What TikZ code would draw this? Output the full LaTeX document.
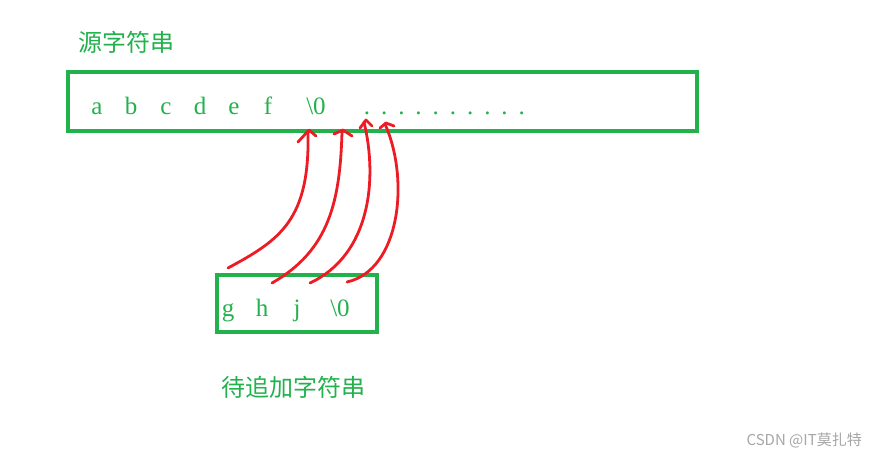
\documentclass[tikz,border=0pt]{standalone}
\usepackage{fontspec}
\setmainfont{Liberation Serif}
\newfontfamily\cjk{Noto Sans CJK SC}
\definecolor{gr}{RGB}{34,177,76}
\definecolor{rd}{RGB}{237,28,36}
\begin{document}
\begin{tikzpicture}[x=1pt,y=-1pt,
  box/.style={draw=gr,line width=3.5pt},
  ch/.style={text=gr,font=\fontsize{25}{30}\selectfont,inner sep=0pt,anchor=base},
  lab/.style={text=gr,font=\cjk\fontsize{24}{28}\selectfont,inner sep=0pt,anchor=west},
  arr/.style={draw=rd,line width=2.8pt,line cap=round,line join=round}]
\useasboundingbox (0,0) rectangle (876,458);
\node[lab] (t1) at (78,42) {源字符串};
\draw[box] (68,72) rectangle (697,131);
\foreach \c/\x [count=\i] in {a/97,b/131,c/166,d/200,e/234,f/268}
  \node[ch] (s\i) at (\x,114) {\c};
\node[ch] (s0) at (316,114) {\textbackslash 0};
\foreach \k in {0,...,9} \node[ch] at (367+17.2*\k,114) {.};
\draw[box] (217,275) rectangle (377,332);
\node[ch] (g) at (228,316) {g};
\node[ch] (h) at (262,316) {h};
\node[ch] (j) at (297,316) {j};
\node[ch] (z) at (340,316) {\textbackslash 0};
\node[lab] (t2) at (221,387) {待追加字符串};
\node[text=gray!70,font=\cjk\fontsize{15}{18}\selectfont,inner sep=0pt,anchor=east] (wm) at (862,440) {CSDN @IT莫扎特};
\coordinate (a1) at (228,268); \coordinate (b1) at (309,130);
\coordinate (a2) at (272,283); \coordinate (b2) at (343,130);
\coordinate (a3) at (310,283); \coordinate (b3) at (366,120);
\coordinate (a4) at (347,282); \coordinate (b4) at (386,123);
\draw[arr] (a1) .. controls (280,240) and (310,220) .. (308,132);
\draw[arr] (298,142) -- (b1) -- (316,136);
\draw[arr] (a2) .. controls (330,250) and (340,200) .. (342,132);
\draw[arr] (334,134) -- (b2) -- (352,136);
\draw[arr] (a3) .. controls (370,255) and (378,180) .. (364,122);
\draw[arr] (360,128) -- (b3) -- (372,126);
\draw[arr] (a4) .. controls (400,270) and (410,180) .. (385,124);
\draw[arr] (380,128) -- (b4) -- (394,126);
\end{tikzpicture}
\end{document}
